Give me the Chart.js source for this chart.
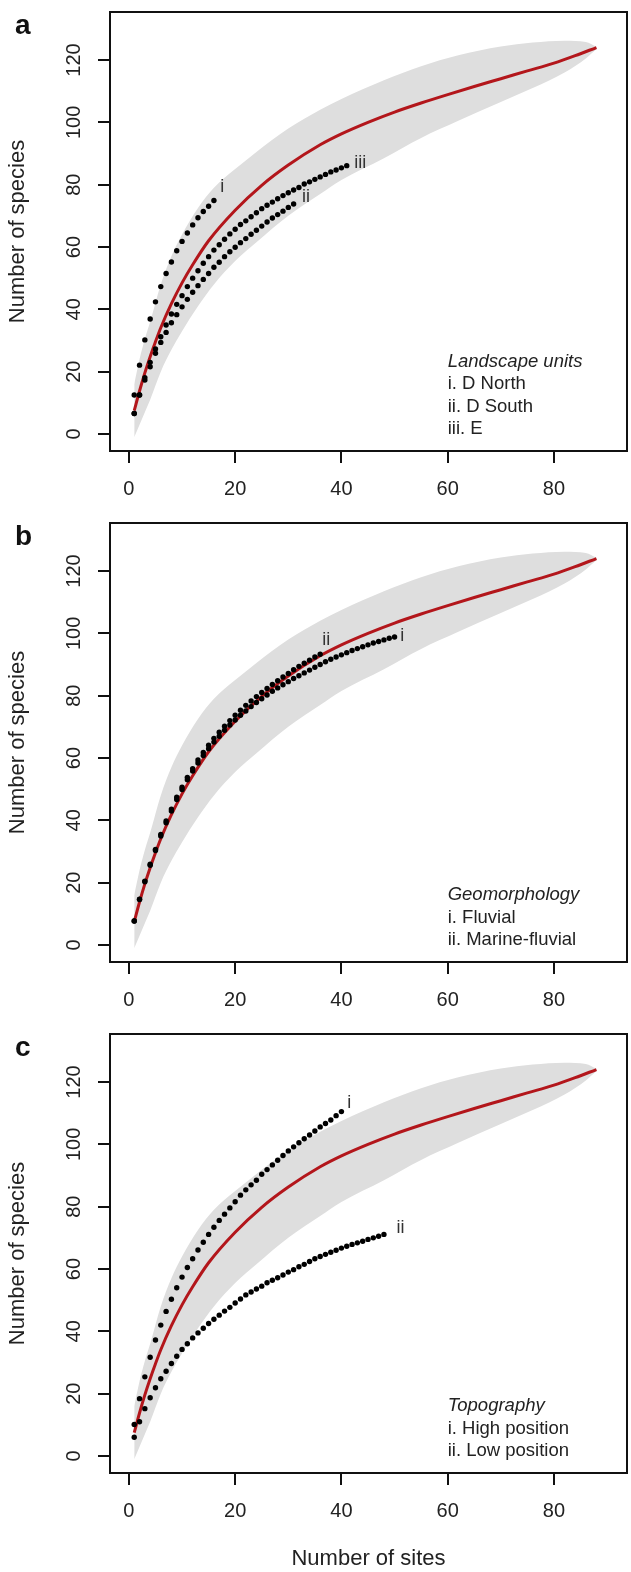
<!DOCTYPE html>
<html>
<head>
<meta charset="utf-8">
<script src="https://cdn.jsdelivr.net/npm/chart.js@4.4.1/dist/chart.umd.min.js"></script>
<style>
  body { margin: 0; background: #fff; }
  canvas { position: absolute; left: 0; }
</style>
</head>
<body>
<canvas id="chartA" width="631" height="511" style="top:0px"></canvas>
<canvas id="chartB" width="631" height="511" style="top:511px"></canvas>
<canvas id="chartC" width="631" height="550" style="top:1022px"></canvas>
<script>
const FONT = '"Liberation Sans", Arial, Helvetica, sans-serif';

// axis ticks
const xTicks = [0, 20, 40, 60, 80];
const yTicks = [0, 20, 40, 60, 80, 100, 120];

// all sites: mean rarefaction curve
const meanSites = [1, 2, 3, 4, 5, 6, 8, 10, 12, 15, 20, 25, 30, 36, 40, 45, 50, 55, 60, 65, 70, 75, 80, 84, 88];
const meanSpecies = [7.5, 13.8, 19.6, 24.8, 29.6, 34.1, 41.8, 48.5, 54.3, 62.0, 71.8, 79.8, 86.3, 92.8, 96.3, 100.0, 103.3, 106.2, 108.9, 111.5, 114.0, 116.5, 119.0, 121.4, 124.0];

// all sites: confidence band
const ciSites = [1, 2, 3, 4, 6, 8, 10, 13, 16, 20, 24, 30, 36, 40, 48, 55, 62, 70, 76, 82, 86, 88];
const ciUpper = [16, 24, 30.5, 36, 48, 57, 64, 72.5, 79, 85, 90.5, 98, 104, 107.5, 113.5, 118, 121.5, 124.3, 125.6, 126.2, 125.8, 124.3];
const ciLower = [-1, 3, 7, 11, 20, 27, 33, 41, 48, 55.5, 61.5, 70, 77, 81.5, 88.5, 95, 100.5, 106.5, 111, 116, 120.5, 123.5];

// a. landscape units (values at 1, 2, 3 ... sites)
const dNorth = [12.5, 22.1, 30.2, 36.9, 42.4, 47.3, 51.5, 55.2, 58.8, 61.8, 64.5, 67.1, 69.4, 71.4, 73.1, 74.9];
const dSouth = [6.6, 12.5, 17.3, 21.6, 25.9, 29.4, 32.6, 35.7, 38.3, 40.8,
  43.2, 45.5, 47.6, 49.6, 51.5, 53.5, 55.1, 56.9, 58.5, 59.9,
  61.4, 62.7, 64.1, 65.4, 66.7, 68.0, 69.3, 70.4, 71.5, 72.7, 73.8];
const unitE = [6.6, 12.5, 18.1, 23.0, 27.3, 31.2, 35.0, 38.5, 41.6, 44.4,
  47.3, 50.0, 52.4, 54.8, 56.9, 59.0, 60.7, 62.5, 64.2, 65.7,
  67.2, 68.4, 69.7, 71.0, 72.3, 73.4, 74.4, 75.5, 76.5, 77.4,
  78.3, 79.1, 80.2, 80.9, 81.7, 82.5, 83.3, 84.1, 84.7, 85.4, 86.1];

// b. geomorphology
const fluvial = [7.7, 14.6, 20.3, 25.6, 30.3, 35.0, 39.2, 43.0, 46.7, 49.9,
  53.0, 55.8, 58.4, 60.8, 63.0, 65.1, 67.0, 68.9, 70.6, 72.2,
  73.7, 75.1, 76.5, 77.8, 79.0, 80.2, 81.4, 82.5, 83.5, 84.5,
  85.5, 86.4, 87.3, 88.2, 89.1, 90.0, 90.9, 91.7, 92.4, 93.1,
  93.8, 94.5, 95.1, 95.7, 96.3, 96.9, 97.4, 97.9, 98.4, 98.8];
const marineFluvial = [7.7, 14.7, 20.5, 25.9, 30.7, 35.5, 39.8, 43.6, 47.4, 50.6,
  53.8, 56.6, 59.4, 61.8, 64.1, 66.3, 68.3, 70.2, 72.0, 73.7,
  75.3, 76.9, 78.3, 79.7, 81.0, 82.3, 83.6, 84.8, 86.0, 87.1,
  88.3, 89.4, 90.4, 91.4, 92.4, 93.3];

// c. topography
const highPos = [10.1, 18.4, 25.4, 31.7, 37.2, 42.0, 46.4, 50.3, 54.0, 57.4,
  60.5, 63.3, 66.1, 68.6, 71.1, 73.4, 75.6, 77.6, 79.6, 81.6,
  83.7, 85.4, 87.0, 88.5, 90.4, 91.9, 93.4, 94.9, 96.4, 97.9,
  99.2, 100.5, 101.8, 103.0, 104.3, 105.6, 106.7, 107.8, 109.2, 110.5];
const lowPos = [6.0, 11.0, 15.2, 18.7, 21.9, 24.8, 27.2, 29.7, 32.0, 34.2,
  36.0, 37.9, 39.5, 41.0, 42.5, 43.9, 45.2, 46.5, 47.7, 49.1,
  50.4, 51.7, 52.6, 53.6, 54.5, 55.6, 56.4, 57.2, 58.1, 59.0,
  59.8, 60.7, 61.5, 62.4, 63.3, 64.0, 64.7, 65.4, 66.0, 66.7,
  67.3, 67.9, 68.4, 68.9, 69.5, 70.0, 70.5, 71.1];

Chart.defaults.font.family = FONT;
Chart.defaults.color = '#222';

function toPoints(xs, ys) {
  return xs.map((x, i) => ({ x: x, y: ys[i] }));
}

function bySite(ys) {
  return ys.map((y, i) => ({ x: i + 1, y: y }));
}

// text, box and rotated y labels drawn on top of the chart
function decorPlugin(letter, tags, legendTitle, legendLines) {
  return {
    id: 'decor',
    afterDatasetsDraw(chart) {
      const { ctx, scales: { x, y } } = chart;
      ctx.save();
      ctx.fillStyle = '#333';
      ctx.font = '18px ' + FONT;
      ctx.textAlign = 'center';
      ctx.textBaseline = 'middle';
      tags.forEach(t => {
        const s = t.values;
        ctx.fillText(t.text, x.getPixelForValue(s.length) + t.dx, y.getPixelForValue(s[s.length - 1]) + t.dy);
      });
      ctx.restore();
    },
    afterDraw(chart) {
      const { ctx, chartArea: area, scales: { x, y } } = chart;
      ctx.save();
      ctx.strokeStyle = '#111';
      ctx.lineWidth = 2;
      ctx.strokeRect(area.left, area.top, area.right - area.left, area.bottom - area.top);

      // y tick labels, parallel to the axis
      ctx.fillStyle = '#222';
      ctx.font = '20px ' + FONT;
      ctx.textAlign = 'center';
      ctx.textBaseline = 'alphabetic';
      y.ticks.forEach(t => {
        ctx.save();
        ctx.translate(area.left - 30, y.getPixelForValue(t.value));
        ctx.rotate(-Math.PI / 2);
        ctx.fillText(String(t.value), 0, 0);
        ctx.restore();
      });

      // legend text
      const lx = x.getPixelForValue(60);
      const lines = [legendTitle].concat(legendLines);
      ctx.textAlign = 'left';
      lines.forEach((txt, i) => {
        ctx.font = (i === 0 ? 'italic ' : '') + '18.5px ' + FONT;
        ctx.fillText(txt, lx, area.bottom - 17 - 22.5 * (lines.length - 1 - i));
      });

      // panel letter
      ctx.font = 'bold 28px ' + FONT;
      ctx.fillStyle = '#111';
      ctx.fillText(letter, 15, 34);
      ctx.restore();
    }
  };
}

function makePanel(id, series, decor, showXTitle) {
  const canvas = document.getElementById(id);
  const h = canvas.height;
  const datasets = [
    { data: toPoints(ciSites, ciLower), borderColor: 'transparent', borderWidth: 0, pointRadius: 0, cubicInterpolationMode: 'monotone', fill: false, order: 3 },
    { data: toPoints(ciSites, ciUpper), borderColor: 'transparent', borderWidth: 0, pointRadius: 0, cubicInterpolationMode: 'monotone', backgroundColor: '#dedede', fill: '-1', order: 3 },
    { data: toPoints(meanSites, meanSpecies), borderColor: '#b3161b', borderWidth: 3, pointRadius: 0, cubicInterpolationMode: 'monotone', fill: false, order: 2 }
  ];
  series.forEach(s => {
    datasets.push({ data: bySite(s), showLine: false, pointRadius: 2.7, pointBackgroundColor: '#000', pointBorderWidth: 0, order: 1 });
  });

  const tickGrid = { display: true, drawOnChartArea: false, drawTicks: true, tickLength: 12, color: '#111', lineWidth: 2 };

  new Chart(canvas, {
    type: 'line',
    data: { datasets: datasets },
    options: {
      responsive: false,
      animation: false,
      events: [],
      layout: { padding: { top: 12, right: 2, left: 0, bottom: 0 } },
      plugins: { legend: { display: false }, tooltip: { enabled: false } },
      scales: {
        x: {
          type: 'linear',
          min: -3.56,
          max: 93.75,
          afterBuildTicks: s => { s.ticks = xTicks.map(v => ({ value: v })); },
          afterFit: s => { s.height = h - 451; },
          ticks: { font: { size: 20 }, color: '#222', padding: 14, maxRotation: 0, autoSkip: false },
          grid: tickGrid,
          border: { display: false },
          title: { display: showXTitle, text: 'Number of sites', font: { size: 22 }, color: '#222', padding: { top: 0, bottom: 0 } }
        },
        y: {
          type: 'linear',
          min: -5.45,
          max: 135.4,
          afterBuildTicks: s => { s.ticks = yTicks.map(v => ({ value: v })); },
          afterFit: s => { s.width = 110; },
          ticks: { display: false },
          grid: tickGrid,
          border: { display: false },
          title: { display: true, text: 'Number of species', font: { size: 22 }, color: '#222', padding: { top: 5, bottom: 0 } }
        }
      }
    },
    plugins: [decor]
  });
}

makePanel('chartA', [dNorth, dSouth, unitE],
  decorPlugin('a', [
    { text: 'i', values: dNorth, dx: 8.4, dy: -14 },
    { text: 'ii', values: dSouth, dx: 12.4, dy: -6.5 },
    { text: 'iii', values: unitE, dx: 13.5, dy: -3 }
  ], 'Landscape units', ['i. D North', 'ii. D South', 'iii. E']), false);

makePanel('chartB', [fluvial, marineFluvial],
  decorPlugin('b', [
    { text: 'i', values: fluvial, dx: 7.8, dy: -1.5 },
    { text: 'ii', values: marineFluvial, dx: 6, dy: -14.2 }
  ], 'Geomorphology', ['i. Fluvial', 'ii. Marine-fluvial']), false);

makePanel('chartC', [highPos, lowPos],
  decorPlugin('c', [
    { text: 'i', values: highPos, dx: 7.7, dy: -9 },
    { text: 'ii', values: lowPos, dx: 16.5, dy: -6.8 }
  ], 'Topography', ['i. High position', 'ii. Low position']), true);
</script>
</body>
</html>
